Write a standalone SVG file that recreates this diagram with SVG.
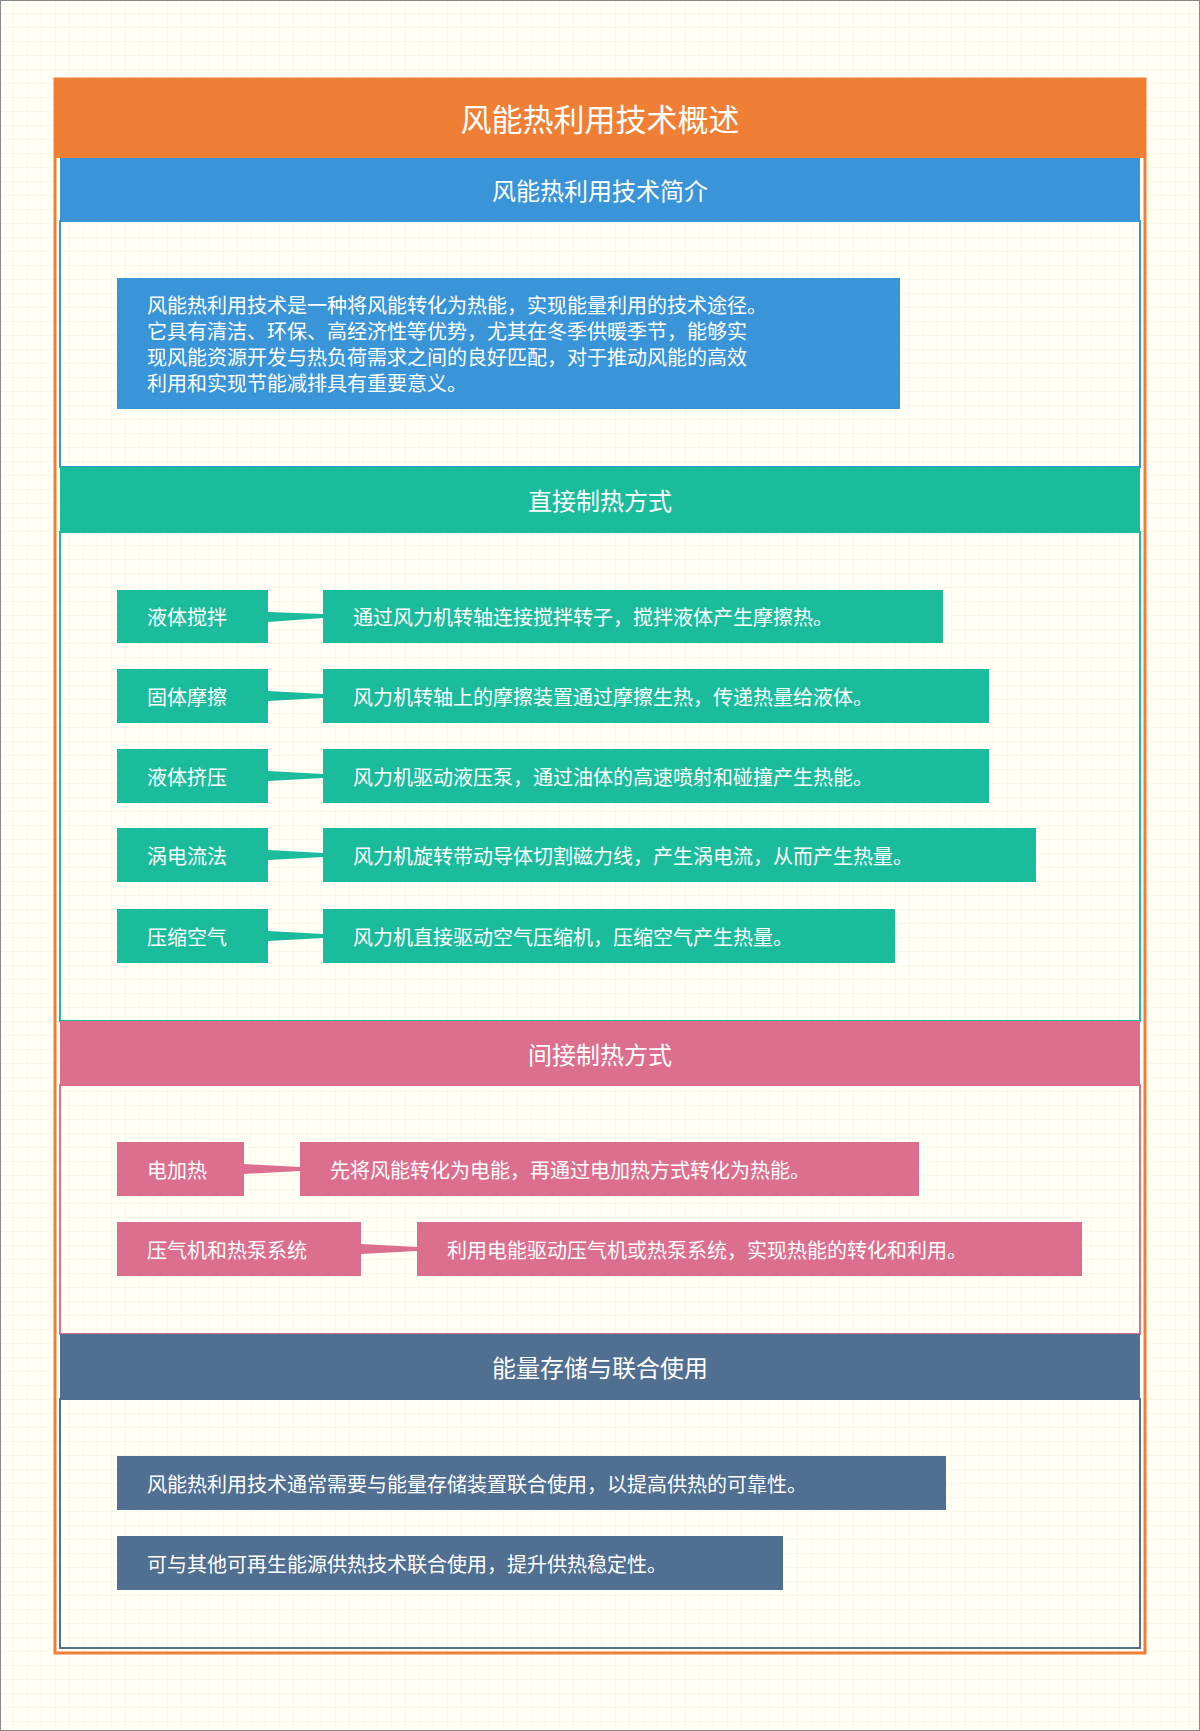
<svg xmlns="http://www.w3.org/2000/svg" width="1200" height="1731" viewBox="0 0 1200 1731">
<defs>
<pattern id="grid" width="14" height="14" patternUnits="userSpaceOnUse">
<rect width="14" height="14" fill="#fffff6"/>
<path d="M14 0V14H0" fill="none" stroke="#f3f3d8" stroke-width="1"/>
</pattern>
</defs>
<style>
text{font-family:"Noto Sans CJK SC","Liberation Sans",sans-serif;fill:#fff}
.t{font-size:20px;dominant-baseline:central}
.h{font-size:24px;text-anchor:middle;dominant-baseline:central}
.g{fill:#1abc9c}.p{fill:#dc6e8e}.s{fill:#516f91}.b{fill:#3a94d8}
</style>
<rect width="1200" height="1731" fill="url(#grid)"/>
<rect x="0.5" y="0.5" width="1199" height="1730" fill="none" stroke="#888"/>
<g id="frame">
<rect x="55" y="79" width="1090" height="1574" fill="none" stroke="#ef7f35" stroke-width="3"/>
<rect x="55" y="79" width="1090" height="79" fill="#ef7f35"/>
<text class="h" x="600" y="117" style="font-size:31px">风能热利用技术概述</text>
</g>
<g id="sec1">
<rect x="60" y="221" width="1080" height="246" fill="none" stroke="#3a94d8" stroke-width="2"/>
<rect class="b" x="60" y="158" width="1080" height="63"/>
<text class="h" x="600" y="189">风能热利用技术简介</text>
<rect class="b" x="117" y="278" width="783" height="131"/>
<text class="t" x="147" y="304">风能热利用技术是一种将风能转化为热能，实现能量利用的技术途径。</text>
<text class="t" x="147" y="330">它具有清洁、环保、高经济性等优势，尤其在冬季供暖季节，能够实</text>
<text class="t" x="147" y="356">现风能资源开发与热负荷需求之间的良好匹配，对于推动风能的高效</text>
<text class="t" x="147" y="382">利用和实现节能减排具有重要意义。</text>
</g>
<g id="sec2">
<rect x="60" y="532" width="1080" height="489" fill="none" stroke="#1abc9c" stroke-width="2"/>
<rect class="g" x="60" y="467" width="1080" height="65"/>
<text class="h" x="600" y="499">直接制热方式</text>
</g>
<g id="connectors">
<polygon class="g" points="268,612 323,614 323,618 268,622"/>
<polygon class="g" points="268,691 323,694 323,698 268,701"/>
<polygon class="g" points="268,771 323,774 323,778 268,781"/>
<polygon class="g" points="268,850 323,853 323,857 268,860"/>
<polygon class="g" points="268,931 323,934 323,938 268,941"/>
<polygon class="p" points="244,1164 300,1167 300,1171 244,1174"/>
<polygon class="p" points="361,1244 417,1247 417,1251 361,1254"/>
</g>
<g id="n1"><rect class="g" x="117" y="590" width="151" height="53"/><text class="t" x="147" y="616">液体搅拌</text></g>
<g id="n1d"><rect class="g" x="323" y="590" width="620" height="53"/><text class="t" x="353" y="616">通过风力机转轴连接搅拌转子，搅拌液体产生摩擦热。</text></g>
<g id="n2"><rect class="g" x="117" y="669" width="151" height="54"/><text class="t" x="147" y="696">固体摩擦</text></g>
<g id="n2d"><rect class="g" x="323" y="669" width="666" height="54"/><text class="t" x="353" y="696">风力机转轴上的摩擦装置通过摩擦生热，传递热量给液体。</text></g>
<g id="n3"><rect class="g" x="117" y="749" width="151" height="54"/><text class="t" x="147" y="776">液体挤压</text></g>
<g id="n3d"><rect class="g" x="323" y="749" width="666" height="54"/><text class="t" x="353" y="776">风力机驱动液压泵，通过油体的高速喷射和碰撞产生热能。</text></g>
<g id="n4"><rect class="g" x="117" y="828" width="151" height="54"/><text class="t" x="147" y="855">涡电流法</text></g>
<g id="n4d"><rect class="g" x="323" y="828" width="713" height="54"/><text class="t" x="353" y="855">风力机旋转带动导体切割磁力线，产生涡电流，从而产生热量。</text></g>
<g id="n5"><rect class="g" x="117" y="909" width="151" height="54"/><text class="t" x="147" y="936">压缩空气</text></g>
<g id="n5d"><rect class="g" x="323" y="909" width="572" height="54"/><text class="t" x="353" y="936">风力机直接驱动空气压缩机，压缩空气产生热量。</text></g>
<g id="sec3">
<rect x="60" y="1085" width="1080" height="249" fill="none" stroke="#dc6e8e" stroke-width="2"/>
<rect class="p" x="60" y="1021" width="1080" height="64"/>
<text class="h" x="600" y="1053">间接制热方式</text>
</g>
<g id="m1"><rect class="p" x="117" y="1142" width="127" height="54"/><text class="t" x="147" y="1169">电加热</text></g>
<g id="m1d"><rect class="p" x="300" y="1142" width="619" height="54"/><text class="t" x="330" y="1169">先将风能转化为电能，再通过电加热方式转化为热能。</text></g>
<g id="m2"><rect class="p" x="117" y="1222" width="244" height="54"/><text class="t" x="147" y="1249">压气机和热泵系统</text></g>
<g id="m2d"><rect class="p" x="417" y="1222" width="665" height="54"/><text class="t" x="447" y="1249">利用电能驱动压气机或热泵系统，实现热能的转化和利用。</text></g>
<g id="sec4">
<rect x="60" y="1399" width="1080" height="249" fill="none" stroke="#516f91" stroke-width="2"/>
<rect class="s" x="60" y="1334" width="1080" height="65"/>
<text class="h" x="600" y="1366">能量存储与联合使用</text>
</g>
<g id="k1"><rect class="s" x="117" y="1456" width="829" height="54"/><text class="t" x="147" y="1483">风能热利用技术通常需要与能量存储装置联合使用，以提高供热的可靠性。</text></g>
<g id="k2"><rect class="s" x="117" y="1536" width="666" height="54"/><text class="t" x="147" y="1563">可与其他可再生能源供热技术联合使用，提升供热稳定性。</text></g>
</svg>
